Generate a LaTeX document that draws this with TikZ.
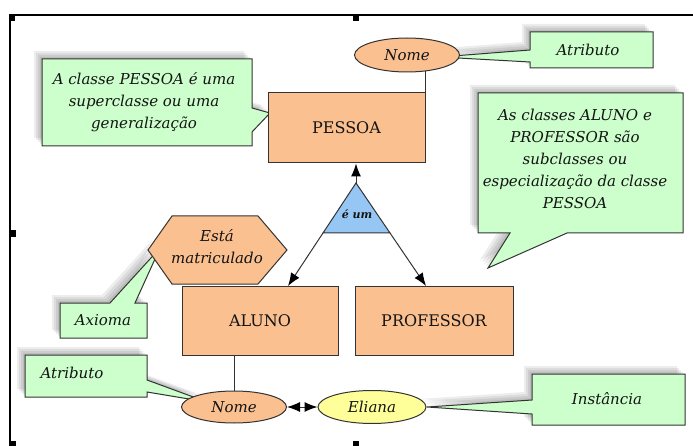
\documentclass[tikz,border=0pt]{standalone}
\usepackage{fontspec}
\setmainfont{DejaVu Serif}
\usetikzlibrary{arrows.meta,shapes.geometric,calc}

\definecolor{peach}{HTML}{FAC090}
\definecolor{mint}{HTML}{CCFFCC}
\definecolor{skyblue}{HTML}{95C6F4}
\definecolor{paleyellow}{HTML}{FFFF99}
\definecolor{edge}{HTML}{333333}
\definecolor{ink}{HTML}{141414}

\tikzset{
  classbox/.style={draw=edge, fill=peach, line width=1pt, inner sep=0pt,
    font=\fontsize{16}{20}\selectfont, text=ink},
  attr/.style={ellipse, draw=edge, line width=1pt, inner sep=0pt,
    minimum width=105pt, minimum height=34pt,
    font=\itshape\fontsize{15}{18}\selectfont, text=ink},
  notebox/.style={draw=edge, fill=mint, line width=1pt, line join=miter},
  notetext/.style={align=center, font=\itshape\fontsize{15}{22}\selectfont,
    text=ink, inner sep=0pt},
  link/.style={draw=edge, line width=1pt},
  head/.tip={Latex[length=13pt,width=10pt,color=black]},
  tip/.style={-head},
  handle/.style={fill=black},
}

% soft drop shadow (up and to the left) behind a note outline
\newcommand\noteshadow[1]{%
  \foreach \k in {2,4,6,8}{\fill[black,opacity=.07,shift={(-\k,-\k)}] #1;}}

% note outlines, tails included
\def\noteSuper{(42,59) -- (252,59) -- (252,108) -- (270,113) -- (252,132) -- (252,146) -- (42,146) -- cycle}
\def\noteAttrTop{(530,32) -- (653,32) -- (653,68) -- (530,68) -- (530,62) -- (440,57) -- (530,50) -- cycle}
\def\noteSub{(478,93) -- (683,93) -- (683,233) -- (567,233) -- (488,268) -- (510,233) -- (478,233) -- cycle}
\def\noteAxiom{(60,303) -- (110,303) -- (160,248) -- (135,303) -- (147,303) -- (147,338) -- (60,338) -- cycle}
\def\noteAttrBottom{(25,355) -- (147,355) -- (147,380) -- (207,402) -- (147,392) -- (147,397) -- (25,397) -- cycle}
\def\noteInstance{(532,374) -- (685,374) -- (685,425) -- (532,425) -- (532,414) -- (427,407) -- (532,400) -- cycle}

\begin{document}
\begin{tikzpicture}[x=1pt, y=-1pt]
  \useasboundingbox (0,0) rectangle (693,446);
  \fill[white] (0,0) rectangle (693,446);

  % frame with selection handles
  \draw[black, line width=1.2pt] (693,15) -- (10,15) -- (10,446);
  \fill[handle] (9,15) rectangle (15,21);
  \fill[handle] (353,15) rectangle (359,21);
  \fill[handle] (10,230) rectangle (16,237);
  \fill[handle] (10,441) rectangle (16,446);
  \fill[handle] (353,441) rectangle (359,446);

  % note shadows
  \noteshadow{\noteSuper}
  \noteshadow{\noteAttrTop}
  \noteshadow{\noteSub}
  \noteshadow{\noteAxiom}
  \noteshadow{\noteAttrBottom}
  \noteshadow{\noteInstance}

  % notes
  \draw[notebox] \noteSuper;
  \draw[notebox] \noteAttrTop;
  \draw[notebox] \noteSub;
  \draw[notebox] \noteAxiom;
  \draw[notebox] \noteAttrBottom;
  \draw[notebox] \noteInstance;

  \node[notetext] (superText) at (144,102) {A classe PESSOA é uma\\superclasse ou uma\\generalização};
  \node[notetext] (attrTopText) at (588,50) {Atributo};
  \node[notetext] (subText) at (575,159) {As classes ALUNO e\\PROFESSOR são\\subclasses ou\\especialização da classe\\PESSOA};
  \node[notetext] (axiomText) at (103,320) {Axioma};
  \node[notetext] (attrBottomText) at (72,373) {Atributo};
  \node[notetext] (instanceText) at (607,399) {Instância};

  % classes
  \node[classbox, minimum width=157pt, minimum height=70pt] (pessoa) at (346.5,128) {PESSOA};
  \node[classbox, minimum width=156pt, minimum height=69pt] (aluno) at (260,320.5) {ALUNO};
  \node[classbox, minimum width=158pt, minimum height=69pt] (professor) at (434,320.5) {PROFESSOR};

  % attributes and instance
  \node[attr, fill=peach] (nomeTop) at (407,55) {Nome};
  \node[attr, fill=peach, minimum height=32pt] (nomeBottom) at (234,407) {Nome};
  \node[attr, fill=paleyellow, minimum width=108pt, minimum height=33pt] (eliana) at (372,407) {Eliana};

  % relationship hexagon
  \draw[link, fill=peach] (148,250) -- (172,216) -- (258,216) -- (287,250) -- (258,284) -- (172,284) -- cycle;
  \node[notetext] (enrolled) at (217,247) {Está\\matriculado};

  % is-a triangle
  \coordinate (apex) at (356,183);
  \coordinate (baseL) at (323,233);
  \coordinate (baseR) at (390,233);
  \draw[link, fill=skyblue, line join=miter] (apex) -- (baseL) -- (baseR) -- cycle;
  \node[font=\bfseries\itshape\fontsize{11}{12}\selectfont, text=ink] (isa) at (357,214) {é um};
  \coordinate (alunoTip) at ($(apex)!2.06!(baseL)$);
  \coordinate (professorTip) at ($(apex)!2.06!(baseR)$);

  % connectors
  \draw[link, tip] (apex) -- (apex |- pessoa.south);
  \draw[link, tip] (baseL) -- (alunoTip);
  \draw[link, tip] (baseR) -- (professorTip);
  \draw[link] (nomeTop.-42) -- (nomeTop.-42 |- pessoa.north);
  \draw[link] (nomeBottom.north) -- (nomeBottom.north |- aluno.south);
  \draw[link, head-head] (nomeBottom) -- (eliana);
\end{tikzpicture}
\end{document}
